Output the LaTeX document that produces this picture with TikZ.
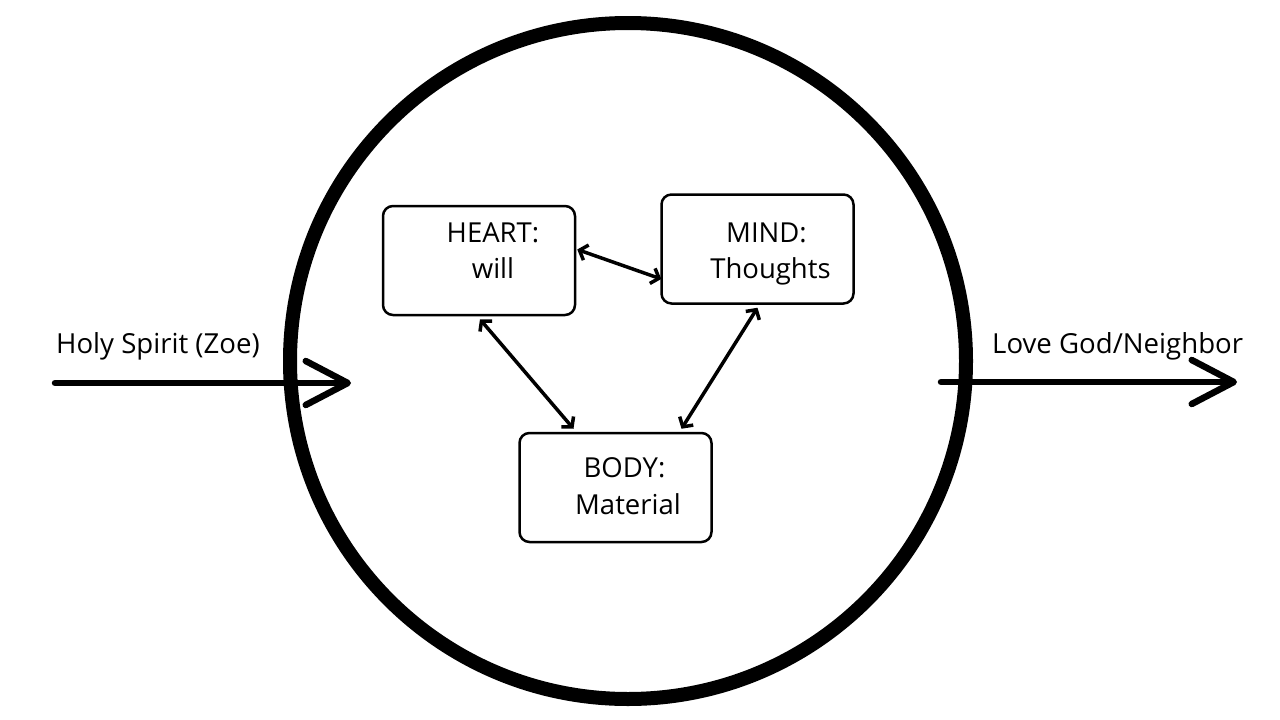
\documentclass[tikz,border=0pt]{standalone}
\usepackage{fontspec}
\setmainfont{Open Sans}
\usetikzlibrary{arrows.meta,calc}
\tikzset{
  box/.style={draw=black, line width=2.5pt, rounded corners=10pt, minimum width=192pt, minimum height=109pt, inner sep=0pt},
  lbl/.style={inner sep=0pt, font=\fontsize{27.5}{32}\selectfont, anchor=base},
  side/.style={inner sep=0pt, font=\fontsize{27.6}{32}\selectfont, anchor=base west},
  link/.style={line width=3.5pt, {Straight Barb[length=7pt,width=16pt]}-{Straight Barb[length=7pt,width=16pt]}},
  bigarrow/.style={line width=6.5pt, line cap=round, -{Straight Barb[length=42pt,width=44pt,round]}},
  ring/.style={draw=black, line width=14pt}
}
\begin{document}
\begin{tikzpicture}[x=1pt,y=-1pt]
\useasboundingbox[fill=white] (0,0) rectangle (1280,720);
% circle
\node[ring, circle, minimum size=676pt, inner sep=0pt] (ring) at (628,361) {};
% boxes
\node[box] (heart) at (479,260.5) {};
\node[box] (mind) at (757.5,249) {};
\node[box] (body) at (615.5,487.5) {};
% box texts
\node[lbl] (heart1) at (493,242) {HEART:};
\node[lbl] (heart2) at (493,278) {will};
\node[lbl] (mind1) at (766.5,242) {MIND:};
\node[lbl] (mind2) at (770.5,278) {Thoughts};
\node[lbl] (body1) at (624.5,477) {BODY:};
\node[lbl] (body2) at (628,514) {Material};
% links
\draw[link] ($(heart.east)+(1,-11)$) -- ($(mind.west)+(1,30)$);
\draw[link] ($(heart.south)+(1,3)$) -- ($(body.north)+(-42,-3)$);
\draw[link] ($(mind.south)+(0,3)$) -- ($(body.north)+(66,-3)$);
% side arrows
\coordinate (inStart) at (55,383);
\coordinate (inEnd) at (351,383);
\coordinate (outStart) at (941,382);
\coordinate (outEnd) at (1237,382);
\draw[bigarrow] (inStart) -- (inEnd);
\draw[bigarrow] (outStart) -- (outEnd);
\node[side] (holy) at (56,353) {Holy Spirit (Zoe)};
\node[side] (love) at (992,353) {Love God/Neighbor};
\end{tikzpicture}
\end{document}
